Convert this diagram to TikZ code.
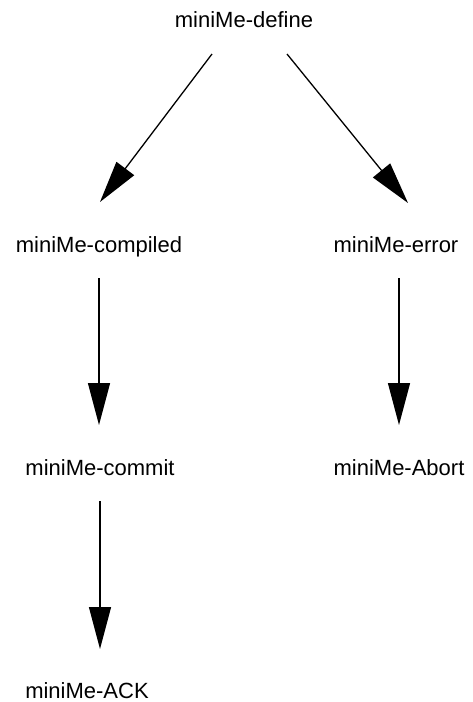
\documentclass[tikz,border=0pt]{standalone}
\usepackage{fontspec}
\setmainfont{Liberation Sans}
\usetikzlibrary{arrows.meta}

\tikzset{
  state/.style={anchor=base, inner sep=0pt, font=\fontsize{22}{26}\selectfont},
  flow/.style={line width=1.3pt, -{Triangle[length=42pt,width=22pt]}}
}

\begin{document}
\begin{tikzpicture}[x=1pt, y=-1pt]
  \useasboundingbox[fill=white] (0,0) rectangle (472,702);

  % message states
  \node[state] (def)   at (244,27)  {miniMe-define};
  \node[state] (comp)  at (99,252)  {miniMe-compiled};
  \node[state] (err)   at (396,252) {miniMe-error};
  \node[state] (commit) at (100,475) {miniMe-commit};
  \node[state] (abort) at (399,475) {miniMe-Abort};
  \node[state] (ack)   at (87,698)  {miniMe-ACK};

  % transitions
  \draw[flow] ([shift={(-32,27)}]def.base) -- ([shift={(1,-50)}]comp.base);
  \draw[flow] ([shift={(43,27)}]def.base)  -- ([shift={(12,-49)}]err.base);
  \draw[flow] ([shift={(0,26)}]comp.base)  -- ([shift={(-1,-50)}]commit.base);
  \draw[flow] ([shift={(3,26)}]err.base)   -- ([shift={(0,-50)}]abort.base);
  \draw[flow] ([shift={(0,26)}]commit.base) -- ([shift={(13,-49)}]ack.base);
\end{tikzpicture}
\end{document}
